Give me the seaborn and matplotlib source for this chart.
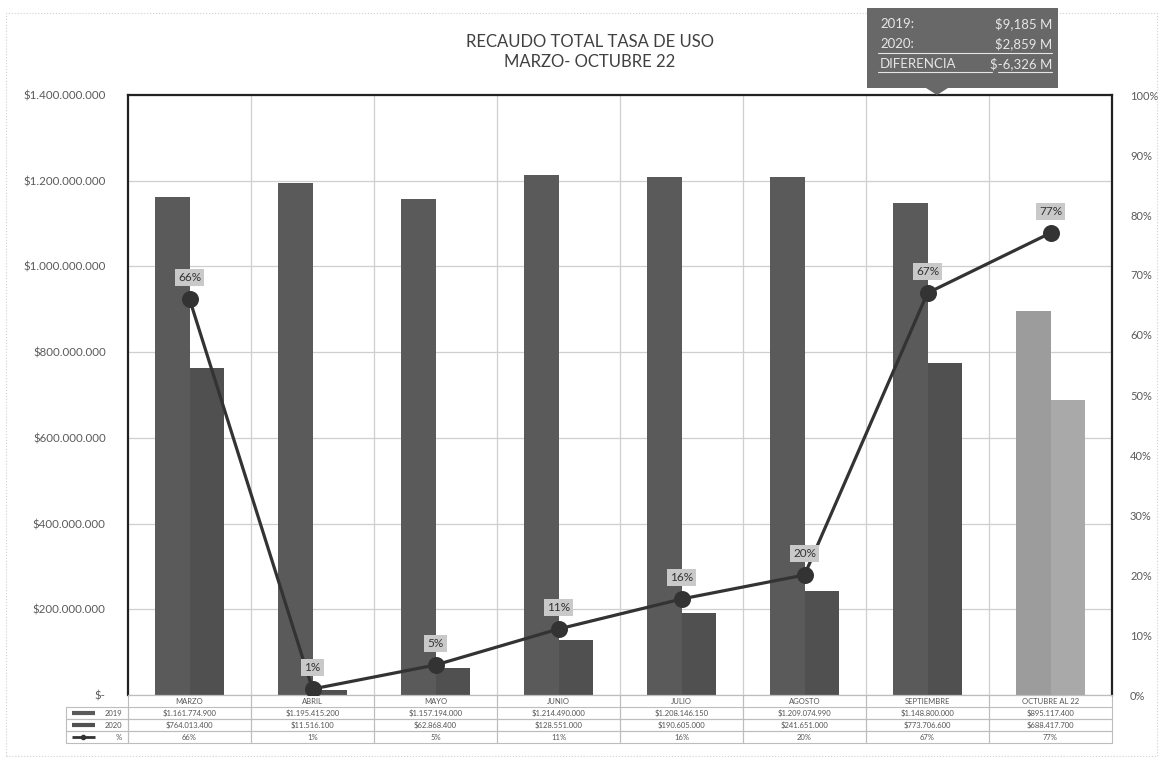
import numpy as np
import pandas as pd
import matplotlib
matplotlib.use("Agg")
import matplotlib.pyplot as plt
from matplotlib.patches import Rectangle, Polygon
from matplotlib.lines import Line2D
import seaborn as sns

# ---- data ----
meses = ["MARZO", "ABRIL", "MAYO", "JUNIO", "JULIO", "AGOSTO", "SEPTIEMBRE", "OCTUBRE AL 22"]
recaudo_2019 = [1161774900, 1195415200, 1157194000, 1214490000, 1208146150, 1209074990, 1148800000, 895117400]
recaudo_2020 = [764013400, 11516100, 62868400, 128551000, 190605000, 241651000, 773706600, 688417700]
porcentaje = [66, 1, 5, 11, 16, 20, 67, 77]
anios = ["2019", "2020"]
resumen_etiquetas = ["2019:", "2020:", "DIFERENCIA"]
resumen_valores = ["$9,185 M", "$2,859 M", "$-6,326 M"]

W, H = 1161, 762
sns.set_theme(style="white")
plt.rcParams["font.family"] = ["Lato", "DejaVu Sans"]

fig = plt.figure(figsize=(W / 100, H / 100), dpi=100)
fig.patch.set_facecolor("white")


def fx(px):
    return px / W


def fy(py):
    return 1 - py / H


ax = fig.add_axes([fx(128), fy(695), fx(1112) - fx(128), fy(95) - fy(695)])

df = pd.DataFrame({
    "mes": meses * 2,
    "anio": [anios[0]] * len(meses) + [anios[1]] * len(meses),
    "valor": recaudo_2019 + recaudo_2020,
})

c2019, c2020 = "#5a5a5a", "#505050"
sns.barplot(data=df, x="mes", y="valor", hue="anio", order=meses, hue_order=anios,
            palette=[c2019, c2020], width=0.56, saturation=1, legend=False,
            linewidth=0, ax=ax, zorder=2)
# last month (partial) in lighter grey
ax.containers[0][-1].set_facecolor("#9c9c9c")
ax.containers[1][-1].set_facecolor("#a9a9a9")

ax.set_ylim(0, 1_400_000_000)
ax.set_yticks(np.arange(0, 1_400_000_001, 200_000_000))


def peso(v, _=None):
    if v == 0:
        return "$-"
    return "$" + f"{int(round(v)):,}".replace(",", ".")


ax.yaxis.set_major_formatter(plt.FuncFormatter(peso))
ax.tick_params(axis="y", length=0, pad=16, labelsize=8.3, labelcolor="#5a5a5a")
ax.set_xticks(np.arange(len(meses)))
ax.set_xticklabels([])
ax.tick_params(axis="x", length=0)
ax.set_xlabel("")
ax.set_ylabel("")
ax.set_xticks(np.arange(len(meses) - 1) + 0.5, minor=True)
ax.grid(axis="y", which="major", color="#cfcfcf", lw=0.9, zorder=0)
ax.grid(axis="x", which="minor", color="#cfcfcf", lw=0.9, zorder=0)
ax.set_axisbelow(True)
for s in ["left", "top", "right"]:
    ax.spines[s].set_color("#222222")
    ax.spines[s].set_linewidth(1.6)
ax.spines["bottom"].set_color("#bdbdbd")
ax.spines["bottom"].set_linewidth(0.9)

# ---- percentage line on secondary axis ----
ax2 = ax.twinx()
sns.pointplot(x=meses, y=[p / 100 for p in porcentaje], order=meses, color="#333333",
              markers="o", markersize=10.5, linewidth=2.3, ax=ax2)
ax2.set_xlim(-0.5, len(meses) - 0.5)
ax.set_xlim(-0.5, len(meses) - 0.5)
ax2.set_ylim(0, 1)
ax2.set_yticks(np.arange(0, 1.01, 0.1))
ax2.yaxis.set_major_formatter(plt.FuncFormatter(lambda v, _: f"{int(round(v * 100))}%"))
ax2.tick_params(axis="y", length=0, pad=13, labelsize=8, labelcolor="#5a5a5a")
ax2.set_xlabel("")
ax2.set_ylabel("")
ax2.grid(False)
for s in ax2.spines.values():
    s.set_visible(False)
for i, p in enumerate(porcentaje):
    ax2.annotate(f"{p}%", (i, p / 100), xytext=(0, 15.5), textcoords="offset points",
                 ha="center", va="center", fontsize=8.5, color="#333333",
                 bbox=dict(boxstyle="square,pad=0.25", fc="#c9c9c9", ec="none"),
                 zorder=6)

# ---- data table under the plot ----
def pesos_tabla(v):
    return "$" + f"{v:,}".replace(",", ".")


cell_text = [
    ["2019"] + [pesos_tabla(v) for v in recaudo_2019],
    ["2020"] + [pesos_tabla(v) for v in recaudo_2020],
    ["%"] + [f"{p}%" for p in porcentaje],
]
col_labels = [""] + meses
label_w = 62 / 984
col_w = [label_w] + [1 / len(meses)] * len(meses)
tbl_h = 48 / 600
tbl = ax.table(cellText=cell_text, colLabels=col_labels, colWidths=col_w,
               cellLoc="center", bbox=[-label_w, -tbl_h, 1 + label_w, tbl_h])
tbl.auto_set_font_size(False)
tbl.set_fontsize(5.5)
for (r, c), cell in tbl.get_celld().items():
    cell.set_edgecolor("#bdbdbd")
    cell.set_linewidth(0.8)
    cell.get_text().set_color("#555555")
    cell.set_facecolor("none")
    if r == 0:
        cell.visible_edges = "" if c == 0 else "LR"
    if c == 0 and r > 0:
        cell.get_text().set_ha("right")
        cell._loc = "right"

# legend keys in the row-label cells
row_h = tbl_h / 4
key_x = [-label_w + 0.006, -label_w + 0.029]
for k, (col, lw, mk) in enumerate([(c2019, 3, None), (c2020, 3, None), ("#333333", 2, "o")]):
    yc = -tbl_h + row_h * (2.5 - k)
    ax.add_line(Line2D(key_x, [yc, yc], transform=ax.transAxes, color=col, lw=lw,
                       clip_on=False, solid_capstyle="butt"))
    if mk:
        ax.add_line(Line2D([np.mean(key_x)], [yc], transform=ax.transAxes, color=col,
                           marker=mk, markersize=3, clip_on=False))

# ---- title ----
fig.text(fx(590), fy(42), "RECAUDO TOTAL TASA DE USO", ha="center", va="center",
         fontsize=12, color="#404040")
fig.text(fx(590), fy(62), "MARZO- OCTUBRE 22", ha="center", va="center",
         fontsize=12, color="#404040")

# ---- summary box ----
bx0, bx1, by0, by1 = 867, 1058, 8, 88
fig.patches.append(Rectangle((fx(bx0), fy(by1)), fx(bx1) - fx(bx0), fy(by0) - fy(by1),
                             transform=fig.transFigure, fc="#686868", ec="none", zorder=5))
fig.patches.append(Polygon([(fx(926), fy(by1)), (fx(948), fy(by1)), (fx(937), fy(95))],
                           closed=True, transform=fig.transFigure, fc="#686868",
                           ec="none", zorder=5))
for k, (lab, val) in enumerate(zip(resumen_etiquetas, resumen_valores)):
    yy = fy(24 + 20 * k)
    fig.text(fx(880), yy, lab, ha="left", va="center", fontsize=9.5, color="#e6e6e6", zorder=6)
    fig.text(fx(1052), yy, val, ha="right", va="center", fontsize=9.5, color="#e6e6e6", zorder=6)
fig.add_artist(Line2D([fx(878), fx(1052)], [fy(53), fy(53)], color="#e6e6e6", lw=0.8, zorder=6))
fig.add_artist(Line2D([fx(878), fx(992)], [fy(72), fy(72)], color="#e6e6e6", lw=0.8, zorder=6))
fig.add_artist(Line2D([fx(998), fx(1052)], [fy(72), fy(72)], color="#e6e6e6", lw=0.8, zorder=6))

# ---- outer frame ----
fig.patches.append(Rectangle((fx(6), fy(756)), fx(1157) - fx(6), fy(13) - fy(756),
                             transform=fig.transFigure, fc="none", ec="#d0d0d0",
                             lw=0.8, ls=":", zorder=0))

fig.savefig("out.png", dpi=100)
